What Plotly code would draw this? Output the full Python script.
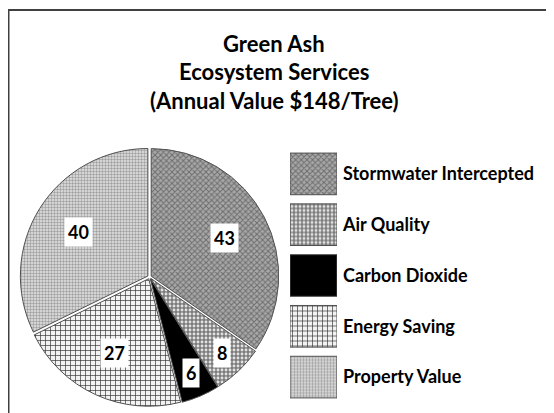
import math
import plotly.graph_objects as go

# ---- data ----
categories = ["Stormwater Intercepted", "Air Quality", "Carbon Dioxide",
              "Energy Saving", "Property Value"]
values = [43, 8, 6, 27, 40]
title_lines = ["Green Ash", "Ecosystem Services", "(Annual Value $148/Tree)"]

# ---- styles ----
W, H = 554, 413
OFF = 8  # browser body margin: page px = figure px + OFF
FONT = "Lato, 'Open Sans', sans-serif"
base_colors = ["#9a9a9a", "#8c8c8c", "#000000", "#f0f0f0", "#e4e4e4"]
pat_shape = ["x", ".", "", "+", "."]
pat_fg = ["#6e6e6e", "#e2e2e2", "#000000", "#333333", "#a0a0a0"]
pat_bg = ["#a8a8a8", "#7c7c7c", "#000000", "#f2f2f2", "#e6e6e6"]
pat_size = [4, 4, 4, 5, 3]
pat_sol = [0.45, 0.4, 0.3, 0.25, 0.5]
edge = "#505050"


def px2x(p):
    return (p - OFF) / W


def px2y(p):
    return (H - (p - OFF)) / H


# pie geometry (page pixels)
cx_px, cy_px, r_px = 149.5, 277, 127.5
pull = 0.015
R = r_px * (1 + pull)

fig = go.Figure()

fig.add_trace(go.Pie(
    labels=categories, values=values, sort=False, direction="clockwise",
    rotation=0, pull=pull, textinfo="none", showlegend=False,
    hoverinfo="label+value",
    domain=dict(x=[px2x(cx_px - R), px2x(cx_px + R)],
                y=[px2y(cy_px + R), px2y(cy_px - R)]),
    marker=dict(colors=base_colors,
                line=dict(color=edge, width=1),
                pattern=dict(shape=pat_shape, fgcolor=pat_fg, bgcolor=pat_bg,
                             size=pat_size, solidity=pat_sol, fillmode="replace")),
))

# legend swatches: one horizontal bar per category
for i, cat in enumerate(categories):
    fig.add_trace(go.Bar(
        x=[1], y=[cat], orientation="h", width=0.82,
        showlegend=False, hoverinfo="y",
        marker=dict(color=base_colors[i], line=dict(color=edge, width=1),
                    pattern=dict(shape=pat_shape[i], fgcolor=pat_fg[i],
                                 bgcolor=pat_bg[i], size=pat_size[i],
                                 solidity=pat_sol[i], fillmode="replace")),
        xaxis="x", yaxis="y",
    ))

# value labels in white boxes
total = sum(values)
annotations = []
cum = 0
for v in values:
    mid = (cum + v / 2) / total * 2 * math.pi
    cum += v
    f = 0.66 if v > 20 else 0.82
    px = cx_px + r_px * f * math.sin(mid)
    py = cy_px - r_px * f * math.cos(mid)
    annotations.append(dict(
        x=px2x(px), y=px2y(py), xref="paper", yref="paper",
        xanchor="center", yanchor="middle",
        text=f"<b>{v}</b>", showarrow=False, bgcolor="white", borderpad=3,
        font=dict(family=FONT, size=18, color="black")))

# title lines
title_y = [43, 72, 100]
for t, ty in zip(title_lines, title_y):
    annotations.append(dict(
        x=px2x(274), y=px2y(ty), xref="paper", yref="paper",
        xanchor="center", yanchor="middle",
        text=f"<b>{t}</b>", showarrow=False,
        font=dict(family=FONT, size=22, color="black")))

fig.update_layout(
    width=W, height=H,
    margin=dict(l=0, r=0, t=0, b=0),
    paper_bgcolor="white", plot_bgcolor="white",
    xaxis=dict(domain=[px2x(290), px2x(337)], range=[0, 1], visible=False,
               fixedrange=True),
    yaxis=dict(domain=[px2y(402.5), px2y(148.5)], side="right",
               autorange="reversed", showgrid=False, zeroline=False,
               showline=False, ticks="", ticklabelstandoff=5,
               tickfont=dict(family=FONT, size=18, color="black", weight="bold"),
               fixedrange=True),
    annotations=annotations,
    shapes=[dict(type="rect", xref="paper", yref="paper",
                 x0=px2x(8.5), x1=1.1, y0=-0.1, y1=px2y(10),
                 line=dict(color="#404040", width=2), layer="below")],
    barmode="overlay",
)

fig.write_html("out.html")
